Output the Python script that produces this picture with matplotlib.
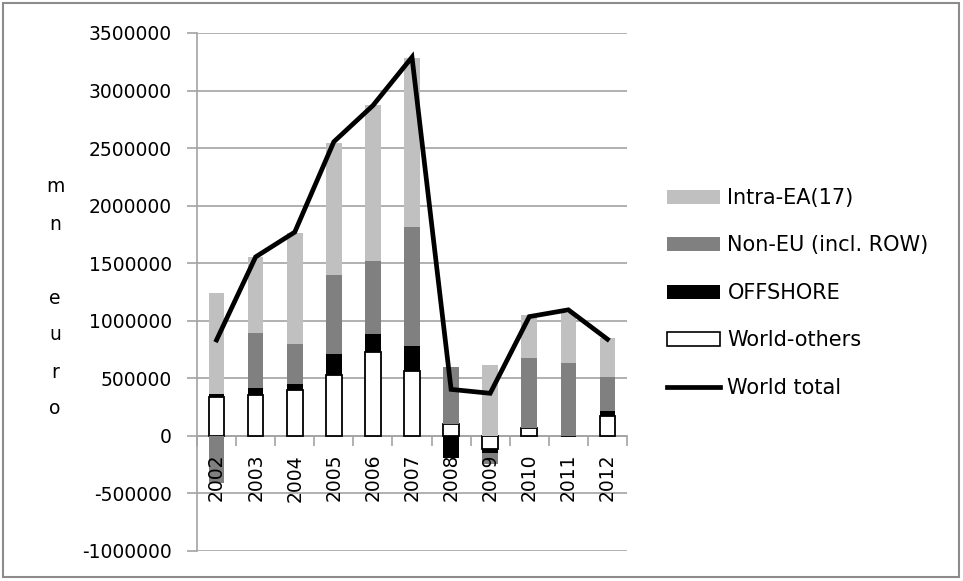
import numpy as np
import matplotlib
matplotlib.use("Agg")
import matplotlib.pyplot as plt
from matplotlib.patches import Patch, Rectangle
from matplotlib.lines import Line2D
from matplotlib.ticker import FuncFormatter, MultipleLocator, FixedLocator

years = ["2002", "2003", "2004", "2005", "2006", "2007",
         "2008", "2009", "2010", "2011", "2012"]

# mn euro, stacked in this order from the zero line outward
world_others = [335000, 355000, 398000, 529000, 731000, 563000,
                102000, -117000, 70000, 3000, 175000]
offshore = [29000, 58000, 50000, 180000, 151000, 220000,
            -195000, -29000, 0, 0, 41000]
non_eu = [-412000, 483000, 348000, 690000, 637000, 1035000,
          498000, -95000, 609000, 633000, 298000]
intra_ea = [875000, 661000, 965000, 1145000, 1358000, 1465000,
            0, 616000, 371000, 429000, 334000]
world_total = [833000, 1555000, 1770000, 2555000, 2870000, 3290000,
               404000, 370000, 1036000, 1095000, 840000]

plt.rcParams["font.family"] = ["DejaVu Sans"]

fig = plt.figure(figsize=(9.63, 5.81), dpi=100)
ax = fig.add_axes([197 / 963, 1 - 551 / 581, 430 / 963, 518 / 581])
ax.set_axisbelow(False)

x = np.arange(len(years))
width = 0.40
grid_col = "#a3a3a3"

ax.set_xlim(-0.5, len(years) - 0.5)
ax.set_ylim(-1000000, 3500000)
ax.yaxis.set_major_locator(MultipleLocator(500000))
ax.yaxis.set_major_formatter(FuncFormatter(lambda v, p: f"{int(round(v))}"))

# horizontal gridlines sit behind the columns, tick labels stay on top
for yv in np.arange(-1000000, 3500001, 500000):
    ax.axhline(yv, color=grid_col, linewidth=1.2, zorder=0.5)

series = [
    ("World-others", world_others, dict(facecolor="white", edgecolor="black", linewidth=1.3)),
    ("OFFSHORE", offshore, dict(facecolor="black", edgecolor="none")),
    ("Non-EU (incl. ROW)", non_eu, dict(facecolor="#808080", edgecolor="none")),
    ("Intra-EA(17)", intra_ea, dict(facecolor="#c0c0c0", edgecolor="none")),
]

pos_base = np.zeros(len(years))
neg_base = np.zeros(len(years))
for name, vals, style in series:
    v = np.array(vals, dtype=float)
    bottom = np.where(v >= 0, pos_base, neg_base)
    mask = v != 0
    ax.bar(x[mask], v[mask], width, bottom=bottom[mask], zorder=2, **style)
    pos_base += np.where(v > 0, v, 0)
    neg_base += np.where(v < 0, v, 0)

ax.plot(x, world_total, color="black", linewidth=3.4, zorder=4,
        solid_joinstyle="miter")

for s in ("top", "right"):
    ax.spines[s].set_visible(False)
ax.spines["left"].set_color(grid_col)
ax.spines["left"].set_linewidth(1.2)
ax.spines["bottom"].set_position(("data", 0))
ax.spines["bottom"].set_color(grid_col)
ax.spines["bottom"].set_linewidth(1.2)
ax.spines["bottom"].set_zorder(1)

ax.tick_params(axis="y", length=7, width=1.2, color=grid_col, pad=11,
               labelsize=13.5, labelcolor="black")
ax.set_xticks(x)
ax.set_xticklabels(years, rotation=90)
ax.tick_params(axis="x", which="major", length=0, pad=13, labelsize=13.5)
ax.xaxis.set_minor_locator(FixedLocator(np.arange(-0.5, len(years), 1.0)))
ax.tick_params(axis="x", which="minor", length=7, width=1.2, color=grid_col,
               direction="out")

fig.text(55 / 963, 1 - 298 / 581, "m\nn\n\ne\nu\nr\no", ha="center",
         va="center", multialignment="center", fontsize=13.5, linespacing=2.2)

handles = [
    Patch(facecolor="#c0c0c0", edgecolor="none"),
    Patch(facecolor="#808080", edgecolor="none"),
    Patch(facecolor="black", edgecolor="none"),
    Patch(facecolor="white", edgecolor="black", linewidth=1.2),
    Line2D([0], [0], color="black", linewidth=3.4),
]
labels = ["Intra-EA(17)", "Non-EU (incl. ROW)", "OFFSHORE", "World-others",
          "World total"]
fig.legend(handles, labels, loc="upper left",
           bbox_to_anchor=(667 / 963, 1 - 188 / 581), frameon=False,
           fontsize=15, handlelength=2.55, handleheight=0.66,
           handletextpad=0.35, labelspacing=1.32, borderpad=0,
           borderaxespad=0)

fig.patches.append(Rectangle((3 / 963, 4 / 581), 956 / 963, 574 / 581,
                             transform=fig.transFigure, fill=False,
                             edgecolor="#8c8c8c", linewidth=1.5))

fig.savefig("out.png", dpi=100)
